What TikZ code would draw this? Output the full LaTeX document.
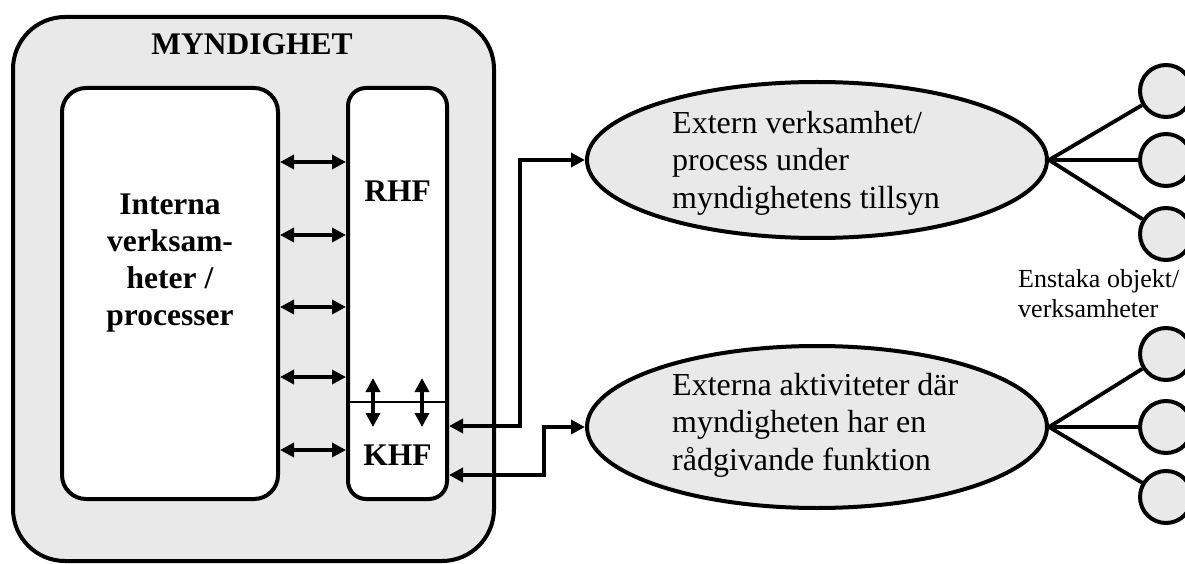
\documentclass[tikz,border=0pt]{standalone}
\usepackage{fontspec}
\setmainfont{Liberation Serif}
\usetikzlibrary{arrows.meta,shapes.geometric}
\definecolor{shade}{RGB}{233,233,233}
\begin{document}
\begin{tikzpicture}[x=1pt,y=-1pt,
  frame/.style={draw, line width=4pt, inner sep=0pt},
  outerbox/.style={frame, fill=shade, rounded corners=52pt},
  innerbox/.style={frame, fill=white, rounded corners=24pt},
  funcbox/.style={frame, fill=white, rounded corners=18pt},
  oval/.style={frame, ellipse, fill=shade},
  leaf/.style={frame, circle, fill=shade, minimum size=52pt},
  boldlbl/.style={font=\fontsize{31.5}{37}\selectfont\bfseries, inner sep=0pt, align=center},
  lbl/.style={font=\fontsize{32}{37.5}\selectfont, inner sep=0pt, align=left, anchor=west},
  smalllbl/.style={font=\fontsize{26}{30}\selectfont, inner sep=0pt, align=left, anchor=west},
  dbl/.style={line width=4pt, {Triangle[length=14pt,width=14pt]}-{Triangle[length=14pt,width=14pt]}},
  link/.style={line width=3.8pt},
  divider/.style={line width=2pt}]
\useasboundingbox (0,0) rectangle (1185,564);

% authority frame with its internal parts
\node[outerbox, minimum width=481pt, minimum height=544pt] (myn) at (253.5,289) {};
\node[boldlbl] (myntitle) at (252,44) {MYNDIGHET};
\node[innerbox, minimum width=216pt, minimum height=411pt] (intern) at (170,293.5) {};
\node[boldlbl] (interntxt) at (170,263) {Interna\\verksam-\\heter /\\processer};
\node[funcbox, minimum width=99pt, minimum height=411pt] (rhf) at (397.5,293.5) {};
\node[boldlbl] (rhftxt) at (397.5,191) {RHF};
\node[boldlbl] (khftxt) at (397.5,455) {KHF};
\draw[divider] (rhf.west |- 0,402) -- (rhf.east |- 0,402);

% exchange between internal activities and the functions
\foreach \y in {162,235,307,377,450}
  \draw[dbl] (intern.east |- 0,\y) -- (rhf.west |- 0,\y);

% exchange between RHF and KHF across the divider
\coordinate (d1) at (373,402);
\coordinate (d2) at (422,402);
\draw[dbl] ([yshift=-25pt]d1) -- ([yshift=24pt]d1);
\draw[dbl] ([yshift=-25pt]d2) -- ([yshift=24pt]d2);

% external activities
\node[oval, minimum width=460pt, minimum height=156pt] (ext1) at (817,160) {};
\node[lbl] (ext1txt) at (672,163) {Extern verksamhet/\\process under\\myndighetens tillsyn};
\node[oval, minimum width=460pt, minimum height=162pt] (ext2) at (817,427) {};
\node[lbl] (ext2txt) at (672,425) {Externa aktiviteter där\\myndigheten har en\\rådgivande funktion};

% connectors from KHF to the external activities
\draw[dbl] (rhf.east |- 0,426) -- ++(71,0) |- (ext1.west);
\draw[dbl] (rhf.east |- 0,475) -- ++(95,0) |- (ext2.west);

% single objects
\node[leaf] (c1) at (1166,91) {};
\node[leaf] (c2) at (1166,160) {};
\node[leaf] (c3) at (1166,234) {};
\node[leaf] (c4) at (1166,354) {};
\node[leaf] (c5) at (1166,427) {};
\node[leaf] (c6) at (1166,497) {};
\foreach \c in {c1,c2,c3} \draw[link] (ext1.east) -- (\c);
\foreach \c in {c4,c5,c6} \draw[link] (ext2.east) -- (\c);
\node[smalllbl] (objtxt) at (1018,294) {Enstaka objekt/\\verksamheter};
\end{tikzpicture}
\end{document}
